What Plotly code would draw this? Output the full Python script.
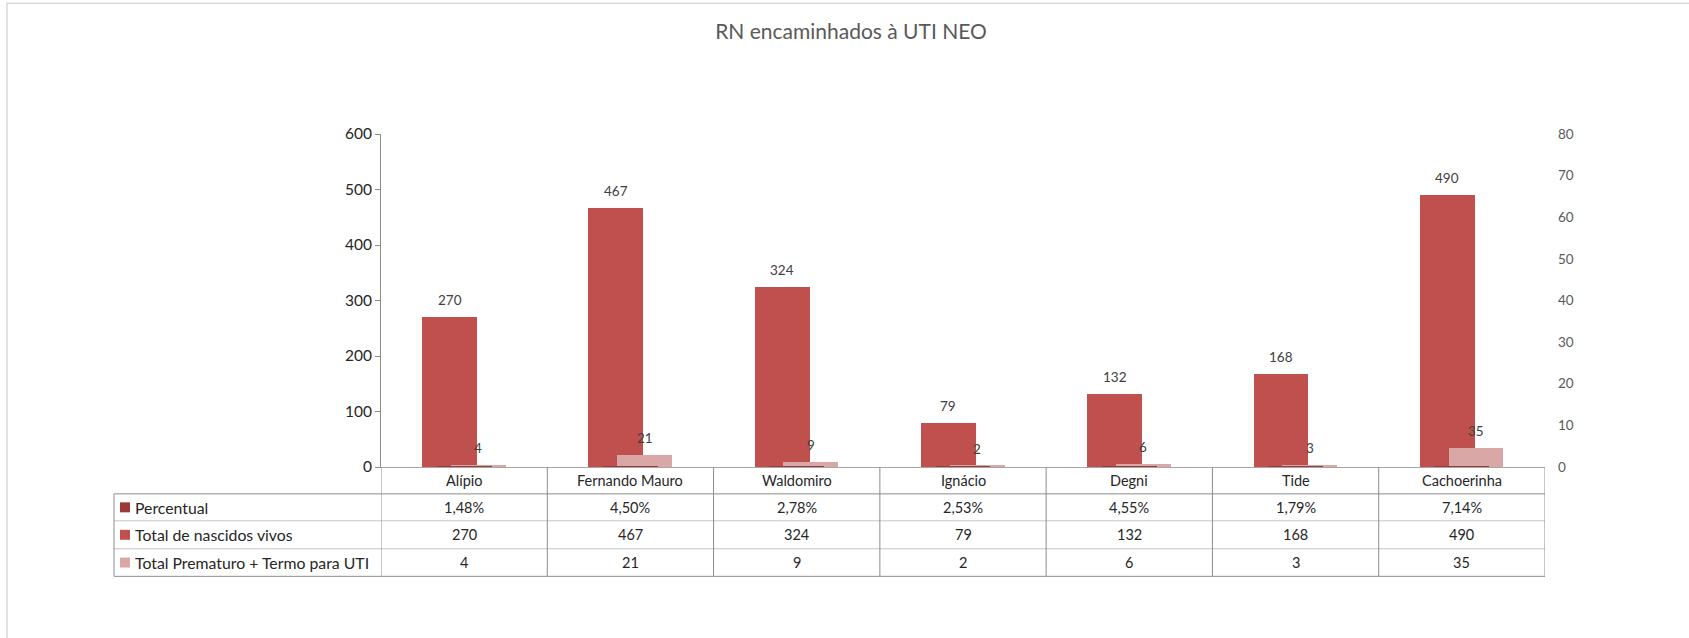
import plotly.graph_objects as go

# Categories and series
unidades = ["Alípio", "Fernando Mauro", "Waldomiro", "Ignácio", "Degni", "Tide", "Cachoerinha"]
percentual = [0.0148, 0.0450, 0.0278, 0.0253, 0.0455, 0.0179, 0.0714]
nascidos_vivos = [270, 467, 324, 79, 132, 168, 490]
prematuro_termo_uti = [4, 21, 9, 2, 6, 3, 35]

serie_nomes = ["Percentual", "Total de nascidos vivos", "Total Prematuro + Termo para UTI"]
serie_cores = ["#9B3B39", "#C0504D", "#D9A7A6"]

W, H = 1689, 638
L, R, T, B = 381, 144, 134, 170.5
PW, PH = W - L - R, H - T - B

FONT = "Lato, 'Open Sans', sans-serif"
TXT = "#262626"
LABEL = "#404040"

BAR_W = 0.33
OFF_RED = -0.253
OFF_PINK = -0.08
OFF_PCT = -0.165


def px_x(xp):
    return (xp - L) / PW


def px_y(yp):
    return (H - B - yp) / PH


def fmt_pct(v):
    return f"{v * 100:.2f}%".replace(".", ",")


fig = go.Figure()

fig.add_trace(go.Bar(
    x=unidades, y=percentual, name=serie_nomes[0], yaxis="y2",
    marker=dict(color=serie_cores[0], line=dict(width=0)),
    offset=OFF_PCT, width=BAR_W, showlegend=False, hoverinfo="skip",
))
fig.add_trace(go.Bar(
    x=unidades, y=nascidos_vivos, name=serie_nomes[1],
    marker=dict(color=serie_cores[1], line=dict(width=0)),
    offset=OFF_RED, width=BAR_W, showlegend=False,
))
fig.add_trace(go.Bar(
    x=unidades, y=prematuro_termo_uti, name=serie_nomes[2],
    marker=dict(color=serie_cores[2], line=dict(width=0)),
    offset=OFF_PINK, width=BAR_W, showlegend=False,
))

annotations = []
shapes = []

# Value labels above the bars
for i, (a, b) in enumerate(zip(nascidos_vivos, prematuro_termo_uti)):
    annotations.append(dict(
        x=i + OFF_RED + BAR_W / 2, y=a, xref="x", yref="y", text=str(a),
        showarrow=False, yanchor="middle", yshift=17,
        font=dict(family=FONT, size=13.5, color=LABEL),
    ))
    annotations.append(dict(
        x=i + OFF_PINK + BAR_W / 2, y=b, xref="x", yref="y", text=str(b),
        showarrow=False, yanchor="middle", yshift=17,
        font=dict(family=FONT, size=13.5, color=LABEL),
    ))

# Data table below the plot
row_edges = [467.5, 494.4, 521.4, 549.4, 577.0]
table_left = 114
grid_dark = "#8C8C8C"
grid_light = "#C4C4C4"
n = len(unidades)

# category header cells
for i, u in enumerate(unidades):
    annotations.append(dict(
        x=i, y=px_y((row_edges[0] + row_edges[1]) / 2), xref="x", yref="paper",
        text=u, showarrow=False, yanchor="middle",
        font=dict(family=FONT, size=14.5, color=TXT),
    ))

rows = [
    [fmt_pct(v) for v in percentual],
    [str(v) for v in nascidos_vivos],
    [str(v) for v in prematuro_termo_uti],
]
for r, vals in enumerate(rows):
    yc = px_y((row_edges[r + 1] + row_edges[r + 2]) / 2)
    # legend key + series name
    shapes.append(dict(
        type="rect", xref="paper", yref="paper",
        x0=px_x(120), x1=px_x(130), y0=yc - 5 / PH, y1=yc + 5 / PH,
        fillcolor=serie_cores[r], line=dict(width=0),
    ))
    annotations.append(dict(
        x=px_x(133), y=yc, xref="paper", yref="paper", text=serie_nomes[r],
        showarrow=False, xanchor="left", yanchor="middle",
        font=dict(family=FONT, size=15.8, color=TXT),
    ))
    for i, v in enumerate(vals):
        annotations.append(dict(
            x=i, y=yc, xref="x", yref="paper", text=v, showarrow=False,
            yanchor="middle", font=dict(family=FONT, size=14.5, color=TXT),
        ))

# horizontal table lines
for k, yp in enumerate(row_edges[1:]):
    outer = k == 0 or k == len(row_edges) - 2
    shapes.append(dict(
        type="line", xref="paper", yref="paper",
        x0=px_x(table_left), x1=1, y0=px_y(yp), y1=px_y(yp),
        line=dict(color=grid_dark if outer else grid_light, width=1),
    ))
# vertical table lines at category boundaries
for i in range(n + 1):
    shapes.append(dict(
        type="line", xref="x", yref="paper",
        x0=i - 0.5, x1=i - 0.5, y0=px_y(row_edges[0]), y1=px_y(row_edges[-1]),
        line=dict(color=grid_dark, width=1),
    ))
# left border of the series-name column
shapes.append(dict(
    type="line", xref="paper", yref="paper",
    x0=px_x(table_left), x1=px_x(table_left),
    y0=px_y(row_edges[1]), y1=px_y(row_edges[-1]),
    line=dict(color=grid_dark, width=1),
))

# chart area border
shapes.append(dict(
    type="rect", xref="paper", yref="paper",
    x0=px_x(7), x1=px_x(W + 20), y0=px_y(H + 20), y1=px_y(3),
    line=dict(color="#D9D9D9", width=1.5), fillcolor="rgba(0,0,0,0)", layer="below",
))

fig.update_layout(
    width=W, height=H, autosize=False,
    margin=dict(l=L, r=R, t=T, b=B, pad=0),
    paper_bgcolor="white", plot_bgcolor="white",
    barmode="overlay", bargap=0,
    title=dict(
        text="RN encaminhados à UTI NEO", x=851 / W, xanchor="center",
        y=1 - 32 / H, yanchor="middle", yref="container",
        font=dict(family=FONT, size=21, color="#595959"),
    ),
    xaxis=dict(
        type="category", range=[-0.5, n - 0.5], showticklabels=False,
        showline=True, linecolor="#A6A6A6", linewidth=1, ticks="",
        showgrid=False, zeroline=False, fixedrange=True,
    ),
    yaxis=dict(
        range=[0, 600], dtick=100, showgrid=False, zeroline=False,
        showline=True, linecolor="#8C8C8C", linewidth=1,
        ticks="outside", ticklen=5, tickcolor="#8C8C8C",
        tickfont=dict(family=FONT, size=15.5, color=TXT),
    ),
    yaxis2=dict(
        range=[0, 80], dtick=10, overlaying="y", side="right",
        showgrid=False, zeroline=False, showline=False, ticks="",
        tickfont=dict(family=FONT, size=13.5, color="#595959"),
        ticklabelstandoff=12,
    ),
    annotations=annotations,
    shapes=shapes,
    showlegend=False,
)

fig.write_html("out.html")
